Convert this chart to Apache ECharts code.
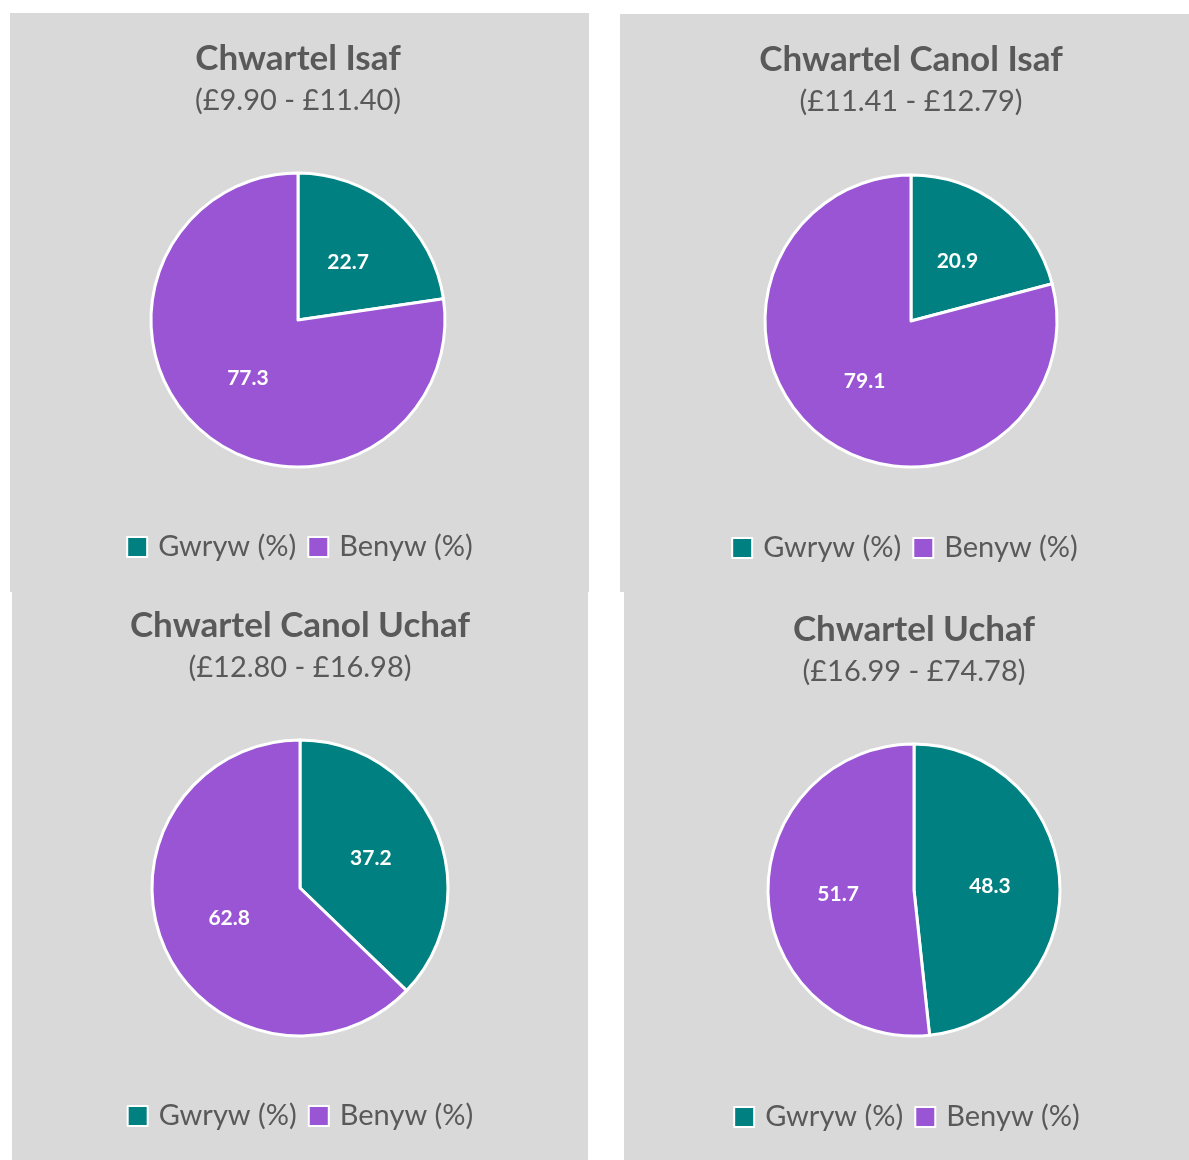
<!DOCTYPE html>
<html>
<head>
<meta charset="utf-8">
<script src="https://cdn.jsdelivr.net/npm/echarts@6/dist/echarts.min.js"></script>
<style>
  body { margin: 0; background: #fff; width: 1189px; height: 1160px; position: relative; overflow: hidden; }
  .panel { position: absolute; background: #d9d9d9; }
  #p0 { left: 10px; top: 13px; width: 579px; height: 579px; }
  #p1 { left: 620px; top: 14px; width: 569px; height: 578px; }
  #p2 { left: 12px; top: 592px; width: 576px; height: 568px; }
  #p3 { left: 624px; top: 592px; width: 565px; height: 568px; }
</style>
</head>
<body>
<div class="panel" id="p0"></div>
<div class="panel" id="p1"></div>
<div class="panel" id="p2"></div>
<div class="panel" id="p3"></div>
<script>
var titles = ["Chwartel Isaf", "Chwartel Canol Isaf", "Chwartel Canol Uchaf", "Chwartel Uchaf"];
var ranges = ["(£9.90 - £11.40)", "(£11.41 - £12.79)", "(£12.80 - £16.98)", "(£16.99 - £74.78)"];
var seriesNames = ["Gwryw (%)", "Benyw (%)"];
var male = [22.7, 20.9, 37.2, 48.3];
var female = [77.3, 79.1, 62.8, 51.7];

// layout for each panel (relative to panel div)
var layout = [
  { cx: 288, cy: 307, r: 147, titleMid: 46, legendMid: 534 },
  { cx: 291, cy: 307, r: 146, titleMid: 46, legendMid: 534 },
  { cx: 288, cy: 296, r: 148, titleMid: 34, legendMid: 524 },
  { cx: 290, cy: 298, r: 146, titleMid: 38, legendMid: 525 }
];

var font = "Lato, 'Open Sans', sans-serif";
var txt = "#595959";

for (var i = 0; i < 4; i++) {
  var L = layout[i];
  var chart = echarts.init(document.getElementById("p" + i));
  chart.setOption({
    color: ["#008080", "#9955d4"],
    title: {
      text: titles[i],
      subtext: ranges[i],
      left: L.cx,
      top: L.titleMid - 20,
      padding: 0,
      textAlign: "center",
      itemGap: 5,
      textStyle: { fontFamily: font, fontSize: 35, fontWeight: "bold", color: txt, lineHeight: 40 },
      subtextStyle: { fontFamily: font, fontSize: 29, color: txt, lineHeight: 34 }
    },
    legend: {
      top: L.legendMid - 17,
      left: "center",
      padding: 0,
      icon: "rect",
      itemWidth: 20,
      itemHeight: 20,
      itemGap: 11,
      data: seriesNames,
      textStyle: { fontFamily: font, fontSize: 29, color: txt, lineHeight: 34, padding: [0, 0, 0, 6] }
    },
    series: [{
      type: "pie",
      center: [L.cx, L.cy],
      radius: [0, L.r],
      startAngle: 90,
      clockwise: true,
      animation: false,
      itemStyle: { borderColor: "#fff", borderWidth: 3 },
      label: {
        position: "inside",
        fontFamily: font,
        fontSize: 21,
        fontWeight: "bold",
        color: "#fff",
        formatter: function (p) { return p.value.toFixed(1); }
      },
      emphasis: { disabled: true },
      data: [
        { name: seriesNames[0], value: male[i] },
        { name: seriesNames[1], value: female[i] }
      ]
    }]
  });
}
</script>
</body>
</html>
